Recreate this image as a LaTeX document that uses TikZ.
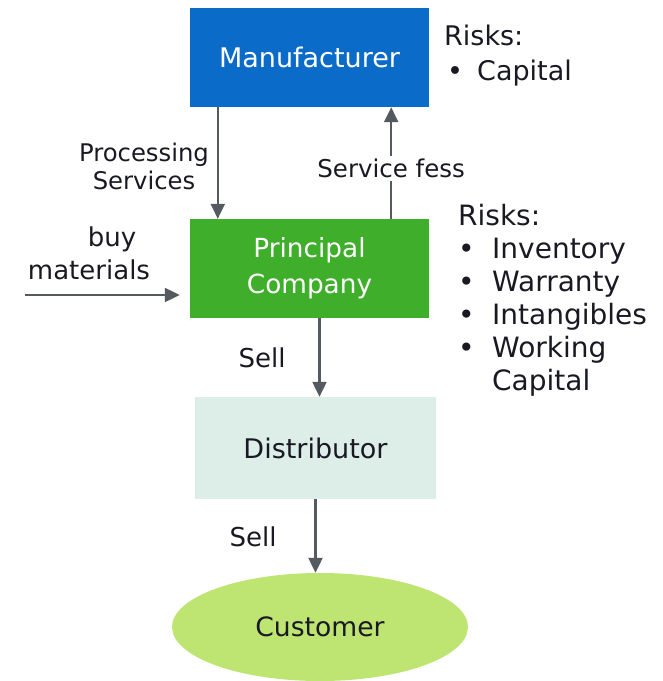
\documentclass[tikz,border=0pt]{standalone}
\usepackage{fontspec}
\setmainfont{DejaVu Sans}
\usetikzlibrary{arrows.meta,shapes.geometric}
\definecolor{manblue}{RGB}{10,108,200}
\definecolor{pcgreen}{RGB}{62,174,43}
\definecolor{distcol}{RGB}{221,238,232}
\definecolor{custcol}{RGB}{190,228,114}
\definecolor{arrcol}{RGB}{85,90,96}
\definecolor{txt}{RGB}{25,25,35}
\begin{document}
\begin{tikzpicture}[x=1pt,y=-1pt,
  font=\fontsize{26}{33}\selectfont,
  boxnode/.style={rectangle, inner sep=0pt, align=center},
  arr/.style={draw=arrcol, line width=2.2pt, -{Triangle[width=14pt,length=15pt]}},
  lbl/.style={text=txt, align=center, inner sep=1pt},
  risk/.style={text=txt, anchor=base west, inner sep=0pt}]
\useasboundingbox (0,0) rectangle (663,681);

% nodes
\node[boxnode, fill=manblue, text=white, minimum width=239pt, minimum height=99pt,
      font=\fontsize{27}{33}\selectfont] (man) at (309.5,57.5) {Manufacturer};
\node[boxnode, fill=pcgreen, text=white, minimum width=239pt, minimum height=99pt,
      font=\fontsize{26.3}{36}\selectfont] (pc) at (309.5,268.5) {Principal\\Company};
\node[boxnode, fill=distcol, text=txt, minimum width=241pt, minimum height=102pt,
      font=\fontsize{27}{33}\selectfont] (dist) at (315.5,448) {Distributor};
\node[ellipse, fill=custcol, text=txt, minimum width=296pt, minimum height=108pt, inner sep=0pt,
      font=\fontsize{26.6}{33}\selectfont] (cust) at (320,627) {Customer};

% risk lists
\node[risk, font=\fontsize{27}{35}\selectfont] (r1) at (444,45) {\begin{tabular}[t]{@{}l@{}}
Risks:\\
\hspace*{3pt}\makebox[30pt][l]{\textbullet}Capital
\end{tabular}};
\node[risk, font=\fontsize{28}{33}\selectfont] (r2) at (458,225) {\begin{tabular}[t]{@{}l@{}}
Risks:\\
\makebox[34pt][l]{\textbullet}Inventory\\
\makebox[34pt][l]{\textbullet}Warranty\\
\makebox[34pt][l]{\textbullet}Intangibles\\
\makebox[34pt][l]{\textbullet}Working\\
\makebox[34pt][l]{}Capital
\end{tabular}};

% labels
\node[lbl, font=\fontsize{24.3}{28}\selectfont] (proc) at (144,166) {Processing\\Services};
\node[lbl] (buy) at (89,253) {\hspace*{46pt}buy\\materials};
\node[lbl] (sell1) at (262,358) {Sell};
\node[lbl] (sell2) at (253,537) {Sell};

\coordinate (bmstart) at (25,295);

% connectors
\draw[arr] ([xshift=28pt]man.south west) -- ([xshift=28pt]pc.north west);
\draw[arr] ([xshift=-38pt]pc.north east) -- ([xshift=-38pt]man.south east)
  node[pos=0.45, fill=white, text=txt, inner xsep=2pt, inner ysep=3pt,
       font=\fontsize{24.5}{30}\selectfont] (sf) {Service fess};
\draw[arr, shorten >=10pt] (bmstart) -- (pc.west |- bmstart);
\draw[arr] ([xshift=10pt]pc.south) -- ([xshift=10pt]pc.south |- dist.north);
\draw[arr] (dist.south) -- (dist.south |- cust.north);
\end{tikzpicture}
\end{document}
